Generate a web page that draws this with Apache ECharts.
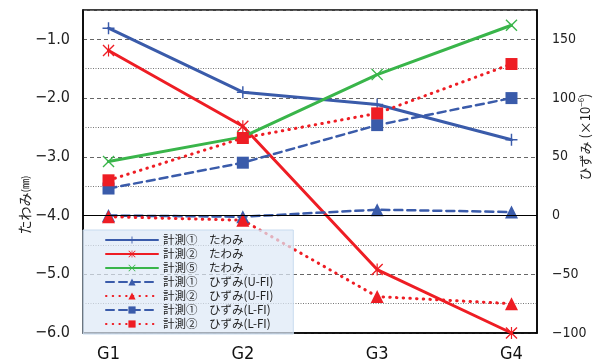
<!DOCTYPE html>
<html>
<head>
<meta charset="utf-8">
<script src="https://cdn.jsdelivr.net/npm/echarts@6/dist/echarts.min.js"></script>
<style>
html,body{margin:0;padding:0;background:#fff;}
#chart{width:594px;height:363px;}
</style>
</head>
<body>
<div id="chart"></div>
<script>
// ---- data ----
const categories = ['G1', 'G2', 'G3', 'G4'];
const seriesNames = [
  '計測①　たわみ', '計測②　たわみ', '計測⑤　たわみ',
  '計測①　ひずみ(U-FI)', '計測②　ひずみ(U-FI)',
  '計測①　ひずみ(L-FI)', '計測②　ひずみ(L-FI)'
];
const deflection1 = [-0.81, -1.90, -2.11, -2.71];
const deflection2 = [-1.19, -2.48, -4.92, -6.00];
const deflection5 = [-3.08, -2.66, -1.60, -0.76];
const strain1U = [0, -1, 5, 3];
const strain2U = [-1, -4, -69, -75];
const strain1L = [23, 45, 77, 100];
const strain2L = [30, 66, 87, 129];
const leftAxisName = 'たわみ';
const leftAxisUnit = '(㎜)';
const rightAxisName = 'ひずみ';

// ---- style ----
const BLUE = '#3A5BAA', RED = '#EE1D24', GREEN = '#39B54A';
const FONT = 'Noto Sans CJK JP';
const NARROW = "'Liberation Sans Narrow', 'DejaVu Sans Condensed', 'Noto Sans CJK JP', sans-serif";
const PLUS = 'path://M4.4,0H5.6V4.4H10V5.6H5.6V10H4.4V5.6H0V4.4H4.4Z';
const CROSS = 'path://M0,0.8L0.8,0L5,4.2L9.2,0L10,0.8L5.8,5L10,9.2L9.2,10L5,5.8L0.8,10L0,9.2L4.2,5Z';
const STAR = 'path://M0,0.8L0.8,0L5,4.2L9.2,0L10,0.8L5.8,5L10,9.2L9.2,10L5,5.8L0.8,10L0,9.2L4.2,5ZM4.5,0H5.5V10H4.5Z';
const DASH = [8, 5];
const DOT = [0.5, 6.2];

function pts(arr) { return categories.map((c, i) => [i, arr[i]]); }
function mk(name, arr, yIdx, color, lineType, width, symbol, size) {
  return {
    name: name, type: 'line', yAxisIndex: yIdx, data: pts(arr),
    symbol: symbol, symbolSize: size,
    itemStyle: { color: color },
    lineStyle: { color: color, width: width, type: lineType, cap: 'round' },
    emphasis: { disabled: true }
  };
}
const minus = s => String(s).replace('-', '−');

const series = [
  mk(seriesNames[0], deflection1, 0, BLUE, 'solid', 3, PLUS, 12),
  mk(seriesNames[1], deflection2, 0, RED, 'solid', 3, STAR, 12),
  mk(seriesNames[2], deflection5, 0, GREEN, 'solid', 3, CROSS, 12),
  mk(seriesNames[3], strain1U, 1, BLUE, DASH, 2.5, 'triangle', 13),
  mk(seriesNames[4], strain2U, 1, RED, DOT, 3, 'triangle', 13),
  mk(seriesNames[5], strain1L, 1, BLUE, DASH, 2.5, 'rect', 12),
  mk(seriesNames[6], strain2L, 1, RED, DOT, 3, 'rect', 12)
];
series[3].markLine = {
  silent: true, symbol: 'none', label: { show: false },
  lineStyle: { color: '#000', type: 'solid', width: 1 },
  data: [{ yAxis: 0 }]
};

const chart = echarts.init(document.getElementById('chart'));
chart.setOption({
  animation: false,
  textStyle: { fontFamily: FONT },
  grid: { left: 83, right: 57, top: 10, bottom: 30, show: true, borderColor: '#000', borderWidth: 1.5, backgroundColor: 'transparent', containLabel: false },
  xAxis: {
    type: 'value', min: -0.19, max: 3.19,
    axisLine: { show: true, onZero: false, lineStyle: { color: '#000', width: 1.5 } },
    axisTick: { show: false },
    splitLine: { show: false },
    axisLabel: {
      customValues: [0, 1, 2, 3],
      formatter: v => categories[Math.round(v)],
      color: '#111', fontSize: 18, fontFamily: NARROW, margin: 12
    }
  },
  yAxis: [
    {
      type: 'value', min: -6, max: -0.5, interval: 1,
      axisLine: { show: true, onZero: false, lineStyle: { color: '#000', width: 1.5 } },
      axisTick: { show: false },
      axisLabel: { showMaxLabel: false, formatter: v => minus(v.toFixed(1)), color: '#222', fontSize: 16, margin: 13, fontFamily: NARROW },
      splitLine: { show: true, lineStyle: { color: '#666', type: [4, 3], width: 1.2 } },
      minorTick: { show: false, splitNumber: 2 },
      minorSplitLine: { show: true, lineStyle: { color: '#777', type: [1, 1.5], width: 1 } }
    },
    {
      type: 'value', min: -100, max: 175, interval: 50, position: 'right',
      axisLine: { show: true, onZero: false, lineStyle: { color: '#000', width: 1.5 } },
      axisTick: { show: false },
      axisLabel: { showMaxLabel: false, formatter: v => minus(v), color: '#222', fontSize: 14, margin: 15, fontFamily: NARROW },
      splitLine: { show: false }
    }
  ],
  legend: {
    orient: 'vertical', left: 83, top: 230,
    data: seriesNames,
    itemWidth: 52, itemHeight: 9, itemGap: 0,
    padding: [3, 20, 3, 22],
    backgroundColor: 'rgba(222,233,246,0.72)',
    borderColor: '#c8dbef', borderWidth: 1,
    textStyle: { fontSize: 11.5, lineHeight: 14, color: '#222', fontFamily: FONT },
    selectedMode: false
  },
  graphic: [
    {
      type: 'text', x: 25, y: 205, rotation: Math.PI / 2,
      style: {
        text: '{a|' + leftAxisName + '}{b|' + leftAxisUnit + '}',
        align: 'center', verticalAlign: 'middle',
        rich: {
          a: { fontSize: 14, fontFamily: FONT, fill: '#222' },
          b: { fontSize: 10, fontFamily: FONT, fill: '#222' }
        }
      }
    },
    {
      type: 'text', x: 585, y: 137, rotation: Math.PI / 2,
      style: {
        text: '{a|' + rightAxisName + '}{a| (×10}{s|−6}{a|)}',
        align: 'center', verticalAlign: 'middle',
        rich: {
          a: { fontSize: 13, fontFamily: FONT, fill: '#222' },
          s: { fontSize: 8, fontFamily: FONT, fill: '#222', verticalAlign: 'top', padding: [0, 0, 8, 0] }
        }
      }
    }
  ],
  series: series
});
</script>
</body>
</html>
